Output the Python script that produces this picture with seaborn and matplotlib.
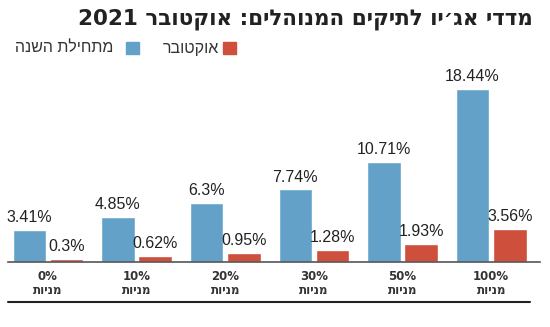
import re
import matplotlib
matplotlib.use("Agg")
import matplotlib.pyplot as plt
import seaborn as sns
import pandas as pd
from matplotlib.patches import Rectangle
from matplotlib.lines import Line2D

# ---- data ----
categories = ["0%", "10%", "20%", "30%", "50%", "100%"]
cat_sub = "מניות"
series_names = ["מתחילת השנה", "אוקטובר"]
ytd_values = [3.41, 4.85, 6.3, 7.74, 10.71, 18.44]
oct_values = [0.3, 0.62, 0.95, 1.28, 1.93, 3.56]
title = "מדדי אג׳יו לתיקים המנוהלים: אוקטובר 2021"

BLUE = "#63a1c8"
RED = "#cd4f3c"


def rtl(s):
    """Visual order for Hebrew text (matplotlib has no bidi)."""
    r = s[::-1]
    return re.sub(r"[0-9]+", lambda m: m.group(0)[::-1], r)


df = pd.DataFrame({
    "cat": categories * 2,
    "series": [series_names[0]] * len(categories) + [series_names[1]] * len(categories),
    "value": ytd_values + oct_values,
})

sns.set_theme(style="white")
plt.rcParams["font.family"] = ["Liberation Sans", "DejaVu Sans"]

W, H = 550, 327
fig = plt.figure(figsize=(5.5, 3.27), dpi=100)
ax_left, ax_right = 8, 540
base_y, top_y = 262, 70
ax = fig.add_axes([ax_left / W, (H - base_y) / H, (ax_right - ax_left) / W, (base_y - top_y) / H])

sns.barplot(data=df, x="cat", y="value", hue="series", order=categories,
            hue_order=series_names, palette=[BLUE, RED], width=0.84, gap=0.1,
            saturation=1, ax=ax, legend=False)

ax.set_xlim(-0.45, 5.55)
ax.set_ylim(0, (base_y - top_y) / 9.38)
ax.set_xlabel("")
ax.set_ylabel("")
ax.set_yticks([])
ax.set_xticks(range(len(categories)))
ax.set_xticklabels([f"{c}\n{rtl(cat_sub)}" for c in categories],
                   fontfamily=["DejaVu Sans"], fontweight="bold", fontsize=8.5,
                   color="#333333", linespacing=1.05)
ax.tick_params(axis="x", length=0, pad=6)
for s in ["top", "right", "left"]:
    ax.spines[s].set_visible(False)
ax.spines["bottom"].set_color("#555555")
ax.spines["bottom"].set_linewidth(1.2)
ax.grid(False)

for cont in ax.containers:
    for bar, v in zip(cont, cont.datavalues):
        ax.annotate(f"{v:g}%", (bar.get_x() + bar.get_width() / 2, bar.get_height()),
                    xytext=(0, 3.5), textcoords="offset points", ha="center", va="bottom",
                    fontsize=11.5, color="#222222")

# title
fig.text(533 / W, 1 - 19 / H, rtl(title), ha="right", va="center",
         fontsize=15.5, fontweight="bold", color="#222222", fontfamily=["DejaVu Sans"])

# legend (RTL: red item rightmost)
ly = 1 - 48 / H
sq = 12.5
fig.patches.append(Rectangle((223 / W, ly - sq / 2 / H), sq / W, sq / H,
                             transform=fig.transFigure, color=RED))
fig.text(219 / W, ly, rtl(series_names[1]), ha="right", va="center", fontsize=11.5, color="#333333")
fig.patches.append(Rectangle((126 / W, ly - sq / 2 / H), sq / W, sq / H,
                             transform=fig.transFigure, color=BLUE))
fig.text(113 / W, ly, rtl(series_names[0]), ha="right", va="center", fontsize=11.5, color="#333333")

# bottom rule
fig.add_artist(Line2D([8 / W, 530 / W], [1 - 302 / H] * 2, transform=fig.transFigure,
                      color="#222222", linewidth=1.5))

fig.savefig("out.png", dpi=100)
